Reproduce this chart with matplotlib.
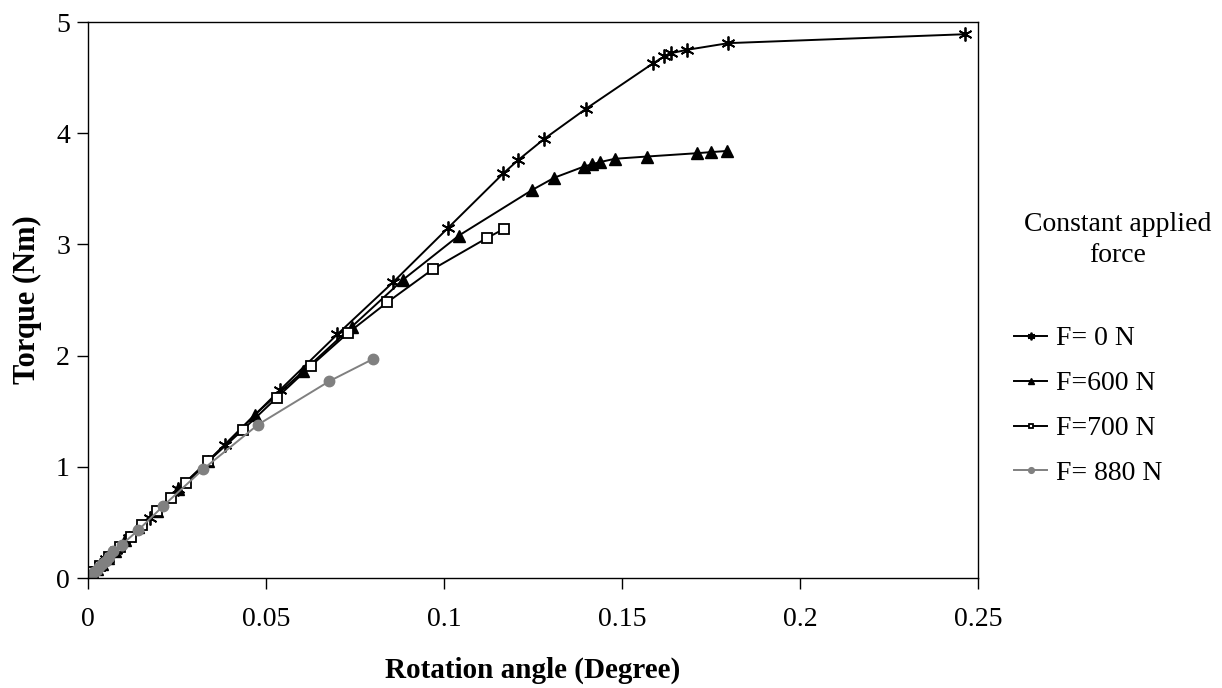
import matplotlib.pyplot as plt
import numpy as np

plt.rcParams['font.family'] = ['Liberation Serif', 'DejaVu Serif']

# F = 0 N
x_f0 = [0, 0.0010, 0.0022, 0.0035, 0.0050, 0.0080, 0.0116, 0.0174, 0.0254, 0.0385,
        0.0539, 0.0700, 0.0857, 0.1012, 0.1167, 0.1209, 0.1282, 0.1399, 0.1588,
        0.1619, 0.1638, 0.1683, 0.1799, 0.2463]
y_f0 = [0, 0.03, 0.07, 0.12, 0.17, 0.25, 0.36, 0.54, 0.80, 1.20,
        1.69, 2.19, 2.66, 3.15, 3.64, 3.76, 3.95, 4.22, 4.63,
        4.69, 4.72, 4.75, 4.81, 4.89]

# F = 600 N
x_f600 = [0, 0.0012, 0.0025, 0.0040, 0.0055, 0.0075, 0.0105, 0.0140, 0.0193, 0.0254,
          0.0338, 0.0469, 0.0605, 0.0741, 0.0884, 0.1042, 0.1248, 0.1310, 0.1393,
          0.1415, 0.1438, 0.1480, 0.1569, 0.1710, 0.1750, 0.1794]
y_f600 = [0, 0.04, 0.08, 0.13, 0.18, 0.24, 0.34, 0.46, 0.60, 0.80,
          1.05, 1.47, 1.86, 2.26, 2.68, 3.08, 3.49, 3.60, 3.70,
          3.72, 3.74, 3.77, 3.79, 3.82, 3.83, 3.84]

# F = 700 N
x_f700 = [0, 0.0015, 0.0035, 0.0060, 0.0090, 0.0120, 0.0151, 0.0193, 0.0232, 0.0275,
          0.0338, 0.0434, 0.0530, 0.0627, 0.0729, 0.0841, 0.0970, 0.1122, 0.1169]
y_f700 = [0, 0.05, 0.11, 0.19, 0.28, 0.37, 0.48, 0.60, 0.72, 0.85,
          1.05, 1.33, 1.62, 1.91, 2.20, 2.48, 2.78, 3.06, 3.14]

# F = 880 N
x_f880 = [0, 0.0008, 0.0016, 0.0024, 0.0032, 0.0040, 0.0050, 0.0060, 0.0071, 0.0095,
          0.0141, 0.0212, 0.0324, 0.0478, 0.0678, 0.0801]
y_f880 = [0, 0.025, 0.05, 0.075, 0.10, 0.125, 0.155, 0.19, 0.24, 0.30,
          0.43, 0.65, 0.98, 1.38, 1.77, 1.97]

labels = ['F= 0 N', 'F=600 N', 'F=700 N', 'F= 880 N']

fig = plt.figure(figsize=(12.22, 6.88), dpi=100)
ax = fig.add_axes([88/1222, 110/688, 890/1222, 556/688])

l1, = ax.plot(x_f0, y_f0, color='black', lw=1.4, marker=(6, 2, 0), ms=10, mew=1.3)
l2, = ax.plot(x_f600, y_f600, color='black', lw=1.4, marker='^', ms=8)
l3, = ax.plot(x_f700, y_f700, color='black', lw=1.4, marker='s', ms=6.5,
              mfc='white', mec='black', mew=1.3)
l4, = ax.plot(x_f880, y_f880, color='#808080', lw=1.4, marker='o', ms=7.5,
              mfc='#808080', mec='#808080')

ax.set_xlim(0, 0.25)
ax.set_ylim(0, 5)
ax.set_xticks([0, 0.05, 0.1, 0.15, 0.2, 0.25])
ax.set_xticklabels(['0', '0.05', '0.1', '0.15', '0.2', '0.25'])
ax.set_yticks([0, 1, 2, 3, 4, 5])
ax.tick_params(axis='x', direction='out', length=8, width=1, labelsize=20, pad=13)
ax.tick_params(axis='y', direction='out', length=8, width=1, labelsize=20, pad=5)
for s in ax.spines.values():
    s.set_linewidth(1)

ax.set_xlabel('Rotation angle (Degree)', fontsize=21, fontweight='bold', labelpad=18)
ax.set_ylabel('Torque (Nm)', fontsize=22, fontweight='bold', labelpad=10)

fig.text(1118/1222, 1 - 240/688, 'Constant applied\nforce', ha='center', va='center',
         fontsize=20, linespacing=1.3)
ax.legend([l1, l2, l3, l4], labels, loc='upper left', bbox_to_anchor=(989/1222, 1 - 301/688),
          bbox_transform=fig.transFigure, frameon=False, fontsize=20,
          handlelength=1.2, handletextpad=0.3, labelspacing=0.7, markerscale=0.55)

fig.savefig('out.png', dpi=100)
